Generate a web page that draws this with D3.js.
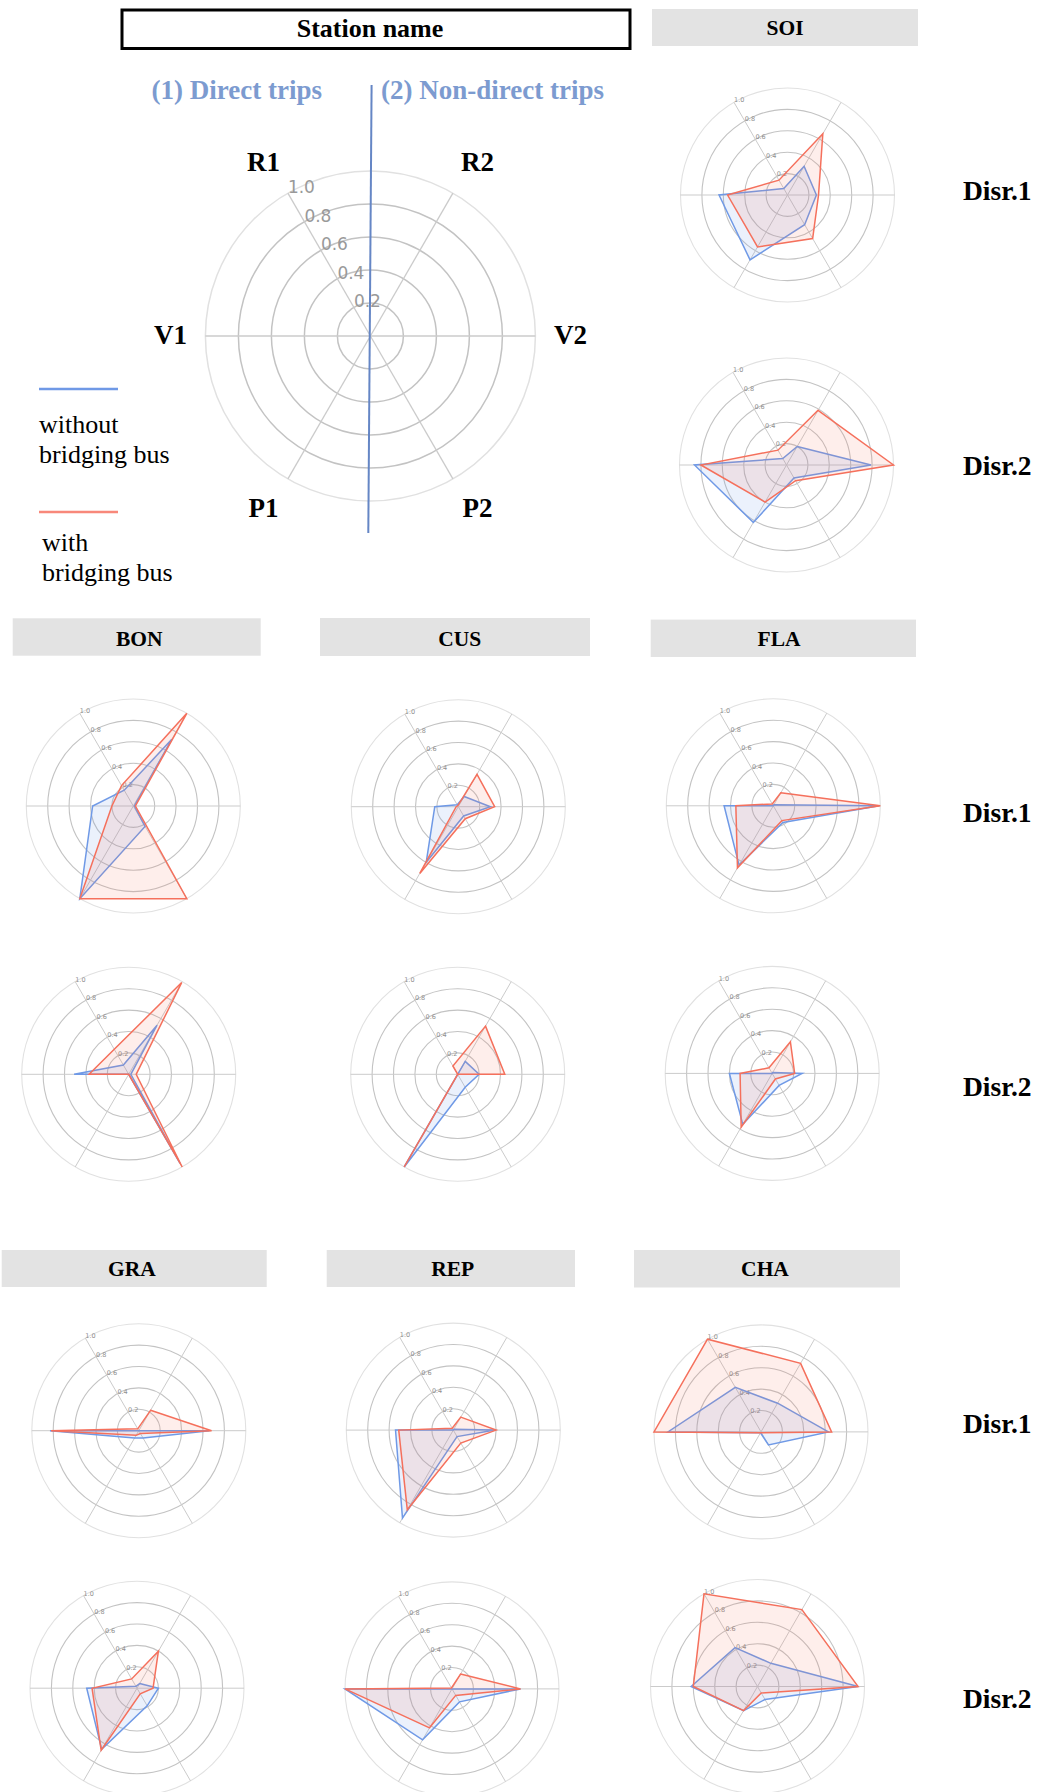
<!DOCTYPE html>
<html>
<head>
<meta charset="utf-8">
<script src="https://cdn.jsdelivr.net/npm/d3@7"></script>
<style>
  body { margin: 0; background: #fff; }
  svg { display: block; }
</style>
</head>
<body>
<svg id="fig" width="1038" height="1792"></svg>
<script>
// Axes in clockwise order starting at the upper-right spoke
const axisLabels = ["R2", "V2", "P2", "P1", "V1", "R1"];
const tickValues = [0.2, 0.4, 0.6, 0.8, 1.0];
const tickLabels = ["0.2", "0.4", "0.6", "0.8", "1.0"];
const stations = ["SOI", "BON", "CUS", "FLA", "GRA", "REP", "CHA"];
const disruptions = ["Disr.1", "Disr.2"];
const legendLabels = [["without", "bridging bus"], ["with", "bridging bus"]];

// Shares per axis, order: R2, V2, P2, P1, V1, R1
const SOI_D1_without = [0.31, 0.27, 0.32, 0.70, 0.64, 0.07];
const SOI_D1_with    = [0.66, 0.29, 0.47, 0.56, 0.56, 0.16];
const SOI_D2_without = [0.20, 0.79, 0.14, 0.62, 0.86, 0.07];
const SOI_D2_with    = [0.59, 1.00, 0.17, 0.40, 0.80, 0.16];

const BON_D1_without = [0.72, 0.01, 0.22, 1.00, 0.38, 0.17];
const BON_D1_with    = [1.00, 0.02, 1.00, 1.00, 0.20, 0.22];
const BON_D2_without = [0.53, 0.02, 0.96, 0.00, 0.51, 0.10];
const BON_D2_with    = [0.99, 0.07, 1.00, 0.00, 0.37, 0.27];

const CUS_D1_without = [0.11, 0.30, 0.10, 0.60, 0.22, 0.02];
const CUS_D1_with    = [0.35, 0.34, 0.13, 0.72, 0.02, 0.01];
const CUS_D2_without = [0.14, 0.20, 0.14, 1.00, 0.00, 0.00];
const CUS_D2_with    = [0.52, 0.44, 0.00, 1.00, 0.00, 0.09];

const FLA_D1_without = [0.01, 0.99, 0.18, 0.64, 0.46, 0.00];
const FLA_D1_with    = [0.14, 1.00, 0.16, 0.67, 0.35, 0.02];
const FLA_D2_without = [0.01, 0.28, 0.13, 0.55, 0.40, 0.00];
const FLA_D2_with    = [0.34, 0.21, 0.06, 0.58, 0.30, 0.06];

const GRA_D1_without = [0.00, 0.66, 0.08, 0.08, 0.83, 0.00];
const GRA_D1_with    = [0.22, 0.68, 0.03, 0.05, 0.82, 0.02];
const GRA_D2_without = [0.05, 0.20, 0.19, 0.66, 0.47, 0.02];
const GRA_D2_with    = [0.40, 0.15, 0.06, 0.67, 0.42, 0.10];

const REP_D1_without = [0.01, 0.39, 0.07, 0.95, 0.54, 0.00];
const REP_D1_with    = [0.14, 0.40, 0.14, 0.86, 0.51, 0.02];
const REP_D2_without = [0.00, 0.64, 0.14, 0.55, 1.00, 0.00];
const REP_D2_with    = [0.16, 0.64, 0.07, 0.42, 1.00, 0.01];

const CHA_D1_without = [0.31, 0.63, 0.14, 0.01, 0.87, 0.48];
const CHA_D1_with    = [0.74, 0.66, 0.01, 0.01, 1.00, 1.00];
const CHA_D2_without = [0.25, 0.94, 0.14, 0.26, 0.62, 0.42];
const CHA_D2_with    = [0.83, 0.94, 0.07, 0.26, 0.60, 1.00];

const seriesByPanel = {
  SOI: [[SOI_D1_without, SOI_D1_with], [SOI_D2_without, SOI_D2_with]],
  BON: [[BON_D1_without, BON_D1_with], [BON_D2_without, BON_D2_with]],
  CUS: [[CUS_D1_without, CUS_D1_with], [CUS_D2_without, CUS_D2_with]],
  FLA: [[FLA_D1_without, FLA_D1_with], [FLA_D2_without, FLA_D2_with]],
  GRA: [[GRA_D1_without, GRA_D1_with], [GRA_D2_without, GRA_D2_with]],
  REP: [[REP_D1_without, REP_D1_with], [REP_D2_without, REP_D2_with]],
  CHA: [[CHA_D1_without, CHA_D1_with], [CHA_D2_without, CHA_D2_with]]
};

// ---- layout ----
const SERIF = "'Liberation Serif', 'Times New Roman', serif";
const SANS = "'DejaVu Sans', Verdana, sans-serif";
const colors = {
  without: "#6f99e6", withBus: "#f5705c",
  withoutFill: "rgba(100,145,235,0.13)", withFill: "rgba(245,112,92,0.12)",
  ring: "#c3c3c3", outerRing: "#e1e1e1", spoke: "#cbcbcb",
  header: "#e3e3e3", divider: "#6586c5", divText: "#7c9bd0"
};

const panelCentres = {
  SOI: [[787.5, 195], [786.5, 465]],
  BON: [[133.3, 806], [128.7, 1074.3]],
  CUS: [[458.3, 806.7], [457.7, 1074.3]],
  FLA: [[773.3, 805.8], [772.2, 1073.4]],
  GRA: [[138.8, 1430.7], [137, 1688.2]],
  REP: [[453.3, 1430.1], [452, 1688.9]],
  CHA: [[761, 1431.9], [757.5, 1686.5]]
};
const headerBoxes = {
  SOI: { x0: 652, x1: 918, y0: 9, y1: 46, tx: 785, ty: 35 },
  BON: { x0: 12.7, x1: 260.7, y0: 618.3, y1: 655.7, tx: 139.3, ty: 645.7 },
  CUS: { x0: 320, x1: 590, y0: 618, y1: 656, tx: 459.7, ty: 645.7 },
  FLA: { x0: 650.7, x1: 916, y0: 619.6, y1: 657, tx: 779, ty: 646.4 },
  GRA: { x0: 1.7, x1: 266.7, y0: 1250, y1: 1287, tx: 132, ty: 1276 },
  REP: { x0: 326.7, x1: 575, y0: 1250, y1: 1287, tx: 452.7, ty: 1276 },
  CHA: { x0: 634, x1: 900, y0: 1250, y1: 1287.5, tx: 765, ty: 1276 }
};
const disrLabelRows = [[200, 475], [822, 1096], [1433, 1708]];

const svg = d3.select("#fig");

// angle of each spoke, clockwise from 12 o'clock
const angle = d3.scaleLinear().domain([0, axisLabels.length]).range([Math.PI / 6, Math.PI / 6 + 2 * Math.PI]);
const polar = (a, r) => [r * Math.sin(a), -r * Math.cos(a)];

function drawGrid(g, R, opt) {
  const r = d3.scaleLinear().domain([0, 1]).range([0, R]);
  // rings
  g.selectAll("circle.ring").data(tickValues).join("circle")
    .attr("class", "ring")
    .attr("r", d => r(d))
    .attr("fill", "none")
    .attr("stroke", d => d === 1 ? colors.outerRing : colors.ring)
    .attr("stroke-width", opt.ringWidth);
  // spokes
  g.selectAll("line.spoke").data(axisLabels).join("line")
    .attr("class", "spoke")
    .attr("x1", 0).attr("y1", 0)
    .attr("x2", (d, i) => polar(angle(i), r(1))[0])
    .attr("y2", (d, i) => polar(angle(i), r(1))[1])
    .attr("stroke", colors.spoke)
    .attr("stroke-width", opt.spokeWidth);
  // tick labels along the R1 spoke
  const tickAxis = axisLabels.indexOf("R1");
  g.selectAll("text.tick").data(tickValues).join("text")
    .attr("class", "tick")
    .attr("x", d => polar(angle(tickAxis), r(d))[0])
    .attr("y", d => polar(angle(tickAxis), r(d))[1])
    .attr("font-family", SANS)
    .attr("font-size", opt.tickSize)
    .attr("fill", opt.tickColor)
    .text((d, i) => tickLabels[i]);
  return r;
}

function drawRadar(cx, cy, R, pair) {
  const g = svg.append("g").attr("transform", `translate(${cx},${cy})`);
  const r = drawGrid(g, R, { ringWidth: 1.1, spokeWidth: 1, tickSize: 6.5, tickColor: "#8f8f8f" });
  const line = d3.lineRadial()
    .angle((d, i) => angle(i))
    .radius(d => r(d))
    .curve(d3.curveLinearClosed);
  const styles = [
    { stroke: colors.without, fill: colors.withoutFill },
    { stroke: colors.withBus, fill: colors.withFill }
  ];
  g.selectAll("path.series").data(pair).join("path")
    .attr("class", "series")
    .attr("d", d => line(d))
    .attr("fill", (d, i) => styles[i].fill)
    .attr("stroke", (d, i) => styles[i].stroke)
    .attr("stroke-width", 1.5)
    .attr("stroke-linejoin", "miter");
}

// ---- key panel ----
svg.append("rect")
  .attr("x", 122).attr("y", 10).attr("width", 508).attr("height", 38.5)
  .attr("fill", "#fff").attr("stroke", "#000").attr("stroke-width", 3);
svg.append("text")
  .attr("x", 370).attr("y", 37).attr("text-anchor", "middle")
  .attr("font-family", SERIF).attr("font-weight", "bold").attr("font-size", 26)
  .text("Station name");

const key = svg.append("g").attr("transform", "translate(370.4,336)");
const keyR = 165;
drawGrid(key, keyR, { ringWidth: 1.5, spokeWidth: 1.3, tickSize: 17, tickColor: "#999" });
key.selectAll("text.axisLabel").data(axisLabels).join("text")
  .attr("class", "axisLabel")
  .attr("x", (d, i) => {
    const [x] = polar(angle(i), 200);
    return x + (Math.abs(x) < 150 ? Math.sign(x) * 7 : 0);
  })
  .attr("y", (d, i) => polar(angle(i), 200)[1])
  .attr("dy", "0.3em")
  .attr("text-anchor", "middle")
  .attr("font-family", SERIF).attr("font-weight", "bold").attr("font-size", 27)
  .text(d => d);

// divider between direct and non-direct trips
svg.append("line")
  .attr("x1", 371.6).attr("y1", 85).attr("x2", 368.3).attr("y2", 533)
  .attr("stroke", colors.divider).attr("stroke-width", 2);
svg.append("text")
  .attr("x", 151.5).attr("y", 98.6)
  .attr("font-family", SERIF).attr("font-weight", "bold").attr("font-size", 27)
  .attr("fill", colors.divText)
  .text("(1) Direct trips");
svg.append("text")
  .attr("x", 381).attr("y", 98.6)
  .attr("font-family", SERIF).attr("font-weight", "bold").attr("font-size", 27)
  .attr("fill", colors.divText)
  .text("(2) Non-direct trips");

// series legend
const legendItems = [
  { y: 389, color: colors.without, tx: 39, ty: 433 },
  { y: 512, color: "#f8887a", tx: 42, ty: 551 }
];
legendItems.forEach((it, n) => {
  svg.append("line")
    .attr("x1", 39).attr("x2", 118).attr("y1", it.y).attr("y2", it.y)
    .attr("stroke", it.color).attr("stroke-width", 2.5);
  const t = svg.append("text")
    .attr("font-family", SERIF).attr("font-size", 26).attr("fill", "#000");
  legendLabels[n].forEach((s, k) => {
    t.append("tspan").attr("x", it.tx).attr("y", it.ty + k * 29.5).text(s);
  });
});

// ---- station panels ----
stations.forEach(st => {
  const hb = headerBoxes[st];
  svg.append("rect")
    .attr("x", hb.x0).attr("y", hb.y0)
    .attr("width", hb.x1 - hb.x0).attr("height", hb.y1 - hb.y0)
    .attr("fill", colors.header);
  svg.append("text")
    .attr("x", hb.tx).attr("y", hb.ty).attr("text-anchor", "middle")
    .attr("font-family", SERIF).attr("font-weight", "bold").attr("font-size", 21.5)
    .text(st);
  panelCentres[st].forEach((c, k) => {
    drawRadar(c[0], c[1], 107, seriesByPanel[st][k]);
  });
});

// disruption row labels
disrLabelRows.forEach(row => {
  row.forEach((y, k) => {
    svg.append("text")
      .attr("x", 963).attr("y", y)
      .attr("font-family", SERIF).attr("font-weight", "bold").attr("font-size", 27.5)
      .text(disruptions[k]);
  });
});
</script>
</body>
</html>
